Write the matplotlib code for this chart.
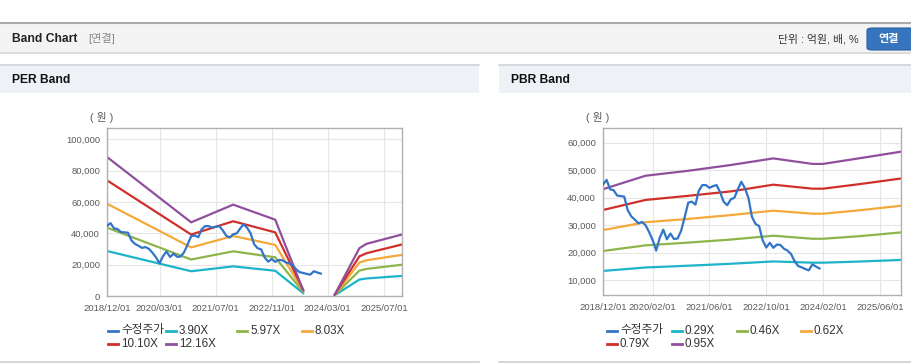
import pandas as pd
import matplotlib
matplotlib.use("Agg")
import matplotlib.pyplot as plt
from matplotlib.patches import Rectangle, FancyBboxPatch
from matplotlib.lines import Line2D

plt.rcParams['font.family'] = ['Liberation Sans', 'Noto Sans CJK KR']

W, H = 912, 364

# adjusted price (monthly, from 2018/12)
price = [44800, 46500, 43000, 42800, 40800, 40600, 40400, 35500, 33200, 32000,
         30700, 31200, 30000, 27500, 24500, 20800, 25500, 28400, 24900, 27000,
         25000, 25200, 28000, 33000, 38200, 38600, 37500, 42500, 44600, 44600,
         43600, 44200, 44600, 42000, 38500, 37300, 39400, 40000, 43200, 45800,
         43500, 40000, 33000, 30500, 29700, 24500, 21900, 23600, 21800, 23000,
         22800, 21500, 20800, 19600, 17000, 15200, 14700, 14100, 13600, 15800,
         15000, 14300]
price_dates = pd.date_range("2018-12-01", periods=len(price), freq="MS")

# PER band
per_dates = ["2018-12-01", "2020-12-01", "2021-12-01", "2022-12-01", "2023-08-01",
             "2023-09-01", "2024-05-01", "2024-12-01", "2025-02-01", "2025-12-01"]
per_390 = [28700, 15800, 18900, 16100, 1800, None, 500, 10500, 11200, 12800]
per_597 = [43600, 23300, 28500, 24700, 2500, None, 700, 16200, 17300, 19900]
per_803 = [58900, 31000, 38300, 32600, 3300, None, 800, 21300, 22800, 26200]
per_1010 = [73800, 39200, 47700, 40600, 3900, None, 900, 25300, 27300, 32800]
per_1216 = [88700, 47000, 58300, 48700, 3600, None, 900, 30500, 33300, 39150]
per_ticks = ["2018/12/01", "2020/03/01", "2021/07/01", "2022/11/01", "2024/03/01", "2025/07/01"]

# PBR band
pbr_dates = ["2018-12-01", "2019-12-01", "2020-12-01", "2021-12-01", "2022-12-01",
             "2023-11-01", "2024-02-01", "2024-12-01", "2025-12-01"]
pbr_029 = [13400, 14650, 15300, 16000, 16850, 16400, 16400, 16800, 17400]
pbr_046 = [20650, 22700, 23700, 24800, 26200, 25100, 25100, 26000, 27400]
pbr_062 = [28250, 31100, 32300, 33700, 35300, 34200, 34200, 35400, 37100]
pbr_079 = [35550, 39200, 40700, 42300, 44750, 43300, 43300, 44900, 47000]
pbr_095 = [43100, 48000, 49800, 51900, 54300, 52300, 52300, 54300, 56750]
pbr_ticks = ["2018/12/01", "2020/02/01", "2021/06/01", "2022/10/01", "2024/02/01", "2025/06/01"]

c_price = "#3274c8"
band_colors = ["#1db4c9", "#8db54a", "#f5a93b", "#d1302a", "#8f4f9d"]
gray_txt = "#5a5a5a"


def fx(x):
    return x / W


def fy(y):
    return 1 - y / H


def rect(fig, x0, y0, x1, y1, color, z=0):
    fig.patches.append(Rectangle((fx(x0), fy(y1)), fx(x1) - fx(x0), fy(y0) - fy(y1),
                                 transform=fig.transFigure, facecolor=color,
                                 edgecolor="none", zorder=z))


def hline(fig, x0, x1, y, color, lw=1.0):
    fig.add_artist(Line2D([fx(x0), fx(x1)], [fy(y), fy(y)], color=color, lw=lw,
                          transform=fig.transFigure))


fig = plt.figure(figsize=(W / 100, H / 100), dpi=100)
fig.patch.set_facecolor("white")

# top header bar
rect(fig, 0, 22, W, 52, "#f4f4f4")
hline(fig, 0, W, 22.5, "#aaaaaa", 1.5)
hline(fig, 0, W, 52.5, "#d6d6d6", 1.2)
fig.text(fx(12), fy(39), "Band Chart", fontsize=8.7, fontweight="bold", color="#222222", va="center")
fig.text(fx(88), fy(39), "[연결]", fontsize=8, color="#888888", va="center")
fig.text(fx(859), fy(39), "단위 : 억원, 배, %", fontsize=7.8, color="#333333", va="center", ha="right")
fig.patches.append(FancyBboxPatch((fx(867), fy(50)), fx(60), fy(28) - fy(50),
                                  boxstyle="round,pad=0,rounding_size=0.006",
                                  transform=fig.transFigure, facecolor="#3674bd",
                                  edgecolor="#2b5f9e", lw=0.8))
fig.text(fx(889), fy(39), "연결", fontsize=8, fontweight="bold", color="white", va="center", ha="center")

# panel headers
for x0, x1, title in [(0, 479, "PER Band"), (499, W, "PBR Band")]:
    rect(fig, x0, 64, x1, 93, "#eef2f7")
    hline(fig, x0, x1, 64.5, "#d0d4da", 1.2)
    hline(fig, x0, x1, 361.5, "#d0d0d0", 1.2)
    fig.text(fx(x0 + 12), fy(80), title, fontsize=8.7, fontweight="bold", color="#111111", va="center")


def setup_axes(ax, ylim, yticks, tick_dates, tick_labels, xlim):
    ax.set_ylim(*ylim)
    ax.set_yticks(yticks)
    ax.set_yticklabels([f"{v:,}" for v in yticks])
    ax.set_xlim(pd.Timestamp(xlim[0]), pd.Timestamp(xlim[1]))
    ax.set_xticks(pd.to_datetime([t.replace("/", "-") for t in tick_dates]))
    ax.set_xticklabels(tick_labels)
    ax.grid(True, color="#e6e6e6", lw=0.8)
    ax.set_axisbelow(True)
    ax.tick_params(length=0, labelsize=6.8, labelcolor=gray_txt)
    ax.tick_params(axis="x", pad=6)
    ax.tick_params(axis="y", pad=5)
    for s in ax.spines.values():
        s.set_color("#b0b0b0")
        s.set_linewidth(1.0)


def add_legend(fig, y_rows, cols, labels, colors):
    for i, (lab, col) in enumerate(zip(labels, colors)):
        r, c = divmod(i, 4)
        x = cols[c]
        y = y_rows[r]
        hline(fig, x, x + 10, y, col, 2.0)
        fig.text(fx(x + 13), fy(y), lab, fontsize=8.4, color="#333333", va="center")


# PER chart
ax1 = fig.add_axes([fx(107), fy(296), fx(402) - fx(107), fy(128) - fy(296)])
pd_per = pd.to_datetime(per_dates)
ax1.plot(price_dates, price, color=c_price, lw=1.6, zorder=5)
for vals, col in zip([per_390, per_597, per_803, per_1010, per_1216], band_colors):
    ax1.plot(pd_per, [float("nan") if v is None else v for v in vals], color=col, lw=1.6)
setup_axes(ax1, (0, 107200), list(range(0, 100001, 20000)), per_ticks, per_ticks,
           ("2018-12-01", "2025-12-06"))
fig.text(fx(102), fy(118), "( 원 )", fontsize=7.8, color=gray_txt, va="center", ha="center")
add_legend(fig, [330.5, 344], [108, 166, 237, 302],
           ["수정주가", "3.90X", "5.97X", "8.03X", "10.10X", "12.16X"],
           [c_price] + band_colors)

# PBR chart
ax2 = fig.add_axes([fx(603), fy(295), fx(901) - fx(603), fy(128) - fy(295)])
pd_pbr = pd.to_datetime(pbr_dates)
ax2.plot(price_dates, price, color=c_price, lw=1.6, zorder=5)
for vals, col in zip([pbr_029, pbr_046, pbr_062, pbr_079, pbr_095], band_colors):
    ax2.plot(pd_pbr, vals, color=col, lw=1.6)
setup_axes(ax2, (4650, 65350), list(range(10000, 60001, 10000)), pbr_ticks, pbr_ticks,
           ("2018-12-01", "2025-11-30"))
fig.text(fx(598), fy(118), "( 원 )", fontsize=7.8, color=gray_txt, va="center", ha="center")
add_legend(fig, [330.5, 344], [607, 672, 737, 801],
           ["수정주가", "0.29X", "0.46X", "0.62X", "0.79X", "0.95X"],
           [c_price] + band_colors)

fig.savefig("out.png", dpi=100)
